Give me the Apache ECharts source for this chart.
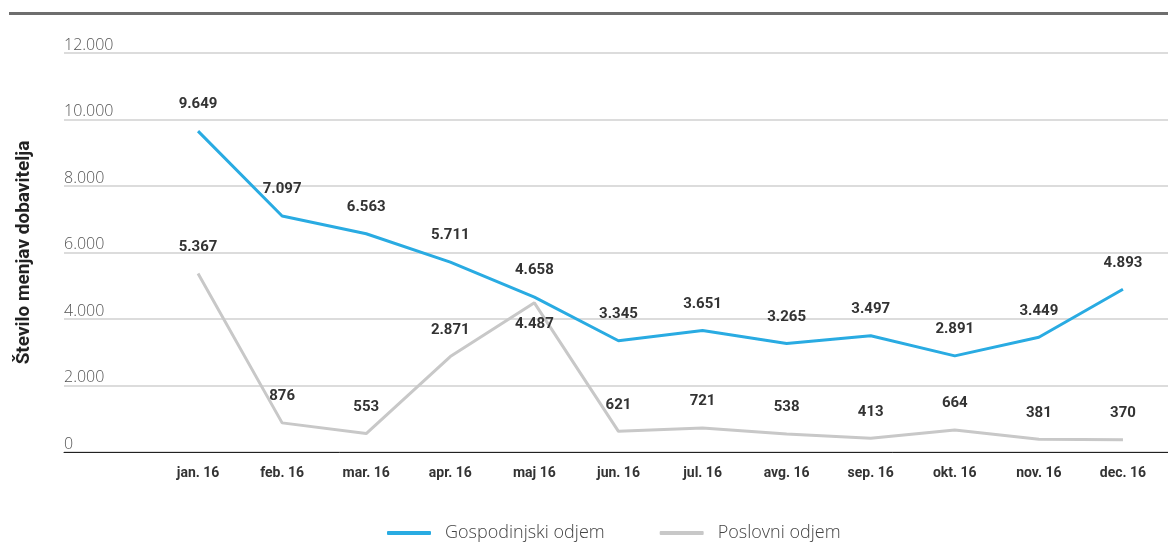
<!DOCTYPE html>
<html><head><meta charset="utf-8">
<script src="https://cdn.jsdelivr.net/npm/echarts@6/dist/echarts.min.js"></script>
<style>html,body{margin:0;padding:0;background:#fff}#c{width:1168px;height:543px}</style>
</head><body><div id="c"></div>
<script>
const categories = ['jan. 16','feb. 16','mar. 16','apr. 16','maj 16','jun. 16','jul. 16','avg. 16','sep. 16','okt. 16','nov. 16','dec. 16'];
const gospodinjski = [9649,7097,6563,5711,4658,3345,3651,3265,3497,2891,3449,4893];
const poslovni = [5367,876,553,2871,4487,621,721,538,413,664,381,370];
const seriesNames = ['Gospodinjski odjem','Poslovni odjem'];
const yTicks = [0,2000,4000,6000,8000,10000,12000];
const yTitle = 'Število menjav dobavitelja';

const fmt = v => String(v).replace(/\B(?=(\d{3})+(?!\d))/g, '.');
const labelFont = {fontFamily:'Roboto', fontWeight:'bold', fontSize:15, color:'#333'};
const below = [4]; // poslovni label positions below point

const chart = echarts.init(document.getElementById('c'));
chart.setOption({
  animation:false,
  graphic:[{type:'rect', shape:{x:9,y:12,width:1159,height:3}, style:{fill:'#6e6e6e'}}],
  grid:[
    {left:156,right:3,top:53,bottom:91},
    {left:64,right:0,top:53,bottom:91}
  ],
  legend:{
    top:519, left:382, itemGap:55, itemWidth:44, itemHeight:4, icon:'roundRect',
    textStyle:{fontFamily:'Open Sans', fontWeight:300, fontSize:18, color:'#444', padding:[0,0,0,9]},
    data:seriesNames
  },
  xAxis:[
    {type:'category', gridIndex:0, data:categories, boundaryGap:true,
     axisLine:{show:false}, axisTick:{show:false},
     axisLabel:{fontFamily:'Roboto', fontWeight:'bold', fontSize:14, color:'#333', margin:14}},
    {type:'value', gridIndex:1, min:0, max:1, show:true,
     axisLine:{show:true, onZero:false, lineStyle:{color:'#222', width:1}},
     axisTick:{show:false}, axisLabel:{show:false}, splitLine:{show:false}}
  ],
  yAxis:[
    {type:'value', gridIndex:0, min:0, max:12000, interval:2000, show:false, splitLine:{show:false}},
    {type:'value', gridIndex:1, min:0, max:12000, interval:2000,
     name:yTitle, nameLocation:'middle', nameGap:30,
     nameTextStyle:{fontFamily:'Roboto', fontWeight:'bold', fontSize:19, color:'#222'},
     axisLine:{show:false}, axisTick:{show:false},
     axisLabel:{inside:true, margin:0, verticalAlign:'bottom', padding:[0,0,0,0],
       fontFamily:'Open Sans', fontWeight:300, fontSize:16, color:'#555',
       formatter:v => yTicks.includes(v) ? fmt(v) : ''},
     splitLine:{show:true, lineStyle:{color:'#d0d0d0', width:1.5}}}
  ],
  series:[
    {name:seriesNames[0], type:'line', xAxisIndex:0, yAxisIndex:0, data:gospodinjski,
     showSymbol:true, symbol:'circle', symbolSize:0, z:3,
     lineStyle:{color:'#29abe2', width:3}, itemStyle:{color:'#29abe2'},
     label:{show:true, position:'top', distance:19, ...labelFont, formatter:p => fmt(p.value)}},
    {name:seriesNames[1], type:'line', xAxisIndex:0, yAxisIndex:0,
     data:poslovni.map((v,i) => below.includes(i) ? {value:v, label:{position:'bottom', distance:14}} : v),
     showSymbol:true, symbol:'circle', symbolSize:0, z:2,
     lineStyle:{color:'#c8c8c8', width:3}, itemStyle:{color:'#c8c8c8'},
     label:{show:true, position:'top', distance:19, ...labelFont, formatter:p => fmt(p.value)}}
  ]
});
</script></body></html>
